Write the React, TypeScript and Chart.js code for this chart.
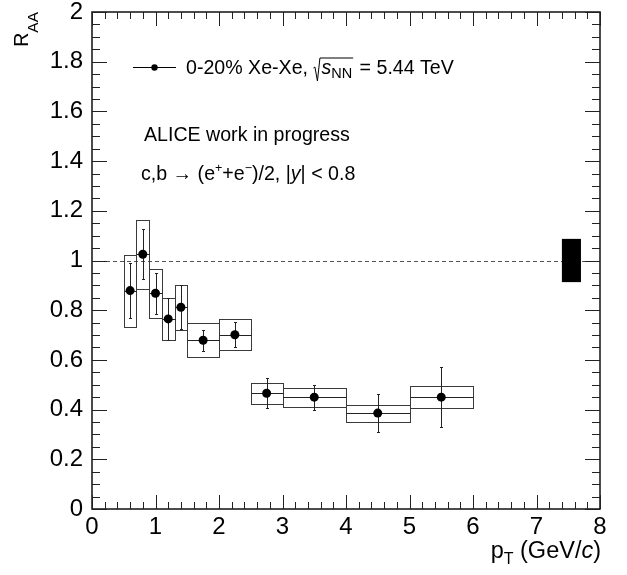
import React, { useEffect, useRef } from "react";
import { Chart, registerables } from "chart.js";

Chart.register(...registerables);

// ---- Data ----
const ptCenters = [0.6, 0.8, 1.0, 1.2, 1.4, 1.75, 2.25, 2.75, 3.5, 4.5, 5.5];
const binLow = [0.5, 0.7, 0.9, 1.1, 1.3, 1.5, 2.0, 2.5, 3.0, 4.0, 5.0];
const binHigh = [0.7, 0.9, 1.1, 1.3, 1.5, 2.0, 2.5, 3.0, 4.0, 5.0, 6.0];
const raaValues = [0.879, 1.025, 0.868, 0.765, 0.812, 0.679, 0.701, 0.466, 0.45, 0.386, 0.45];
const statErr = [0.11, 0.1, 0.082, 0.083, 0.088, 0.043, 0.05, 0.06, 0.05, 0.078, 0.122];
const sysErr = [0.145, 0.138, 0.098, 0.086, 0.091, 0.068, 0.062, 0.042, 0.038, 0.034, 0.045];
const normBoxX = [7.4, 7.7];
const normValue = 1.0;
const normErr = 0.087;
const referenceLine = 1.0;

const xTickValues = [0, 1, 2, 3, 4, 5, 6, 7, 8];
const xTickLabels = ["0", "1", "2", "3", "4", "5", "6", "7", "8"];
const yTickValues = [0, 0.2, 0.4, 0.6, 0.8, 1.0, 1.2, 1.4, 1.6, 1.8, 2.0];
const yTickLabels = ["0", "0.2", "0.4", "0.6", "0.8", "1", "1.2", "1.4", "1.6", "1.8", "2"];
const xMinorStep = 0.2;
const yMinorStep = 0.05;

const FONT = '"Liberation Sans", Arial, Helvetica, sans-serif';

const rootPlugin = {
  id: "rootStyle",
  beforeDatasetsDraw(chart: any) {
    const { ctx, scales } = chart;
    const x = scales.x;
    const y = scales.y;
    const px = (v: number) => x.getPixelForValue(v);
    const py = (v: number) => y.getPixelForValue(v);
    ctx.save();

    // dashed reference line
    ctx.strokeStyle = "#555";
    ctx.lineWidth = 1;
    ctx.setLineDash([4, 3]);
    ctx.beginPath();
    const yr = Math.round(py(referenceLine)) + 0.5;
    ctx.moveTo(px(x.min), yr);
    ctx.lineTo(px(x.max), yr);
    ctx.stroke();
    ctx.setLineDash([]);

    // normalisation box
    ctx.fillStyle = "#000";
    const nx0 = px(normBoxX[0]);
    const nx1 = px(normBoxX[1]);
    const ny0 = py(normValue + normErr);
    const ny1 = py(normValue - normErr);
    ctx.fillRect(nx0, ny0, nx1 - nx0, ny1 - ny0);

    // systematic boxes
    ctx.strokeStyle = "#3a3a3a";
    ctx.lineWidth = 1;
    for (let i = 0; i < ptCenters.length; i++) {
      const x0 = Math.round(px(binLow[i])) + 0.5;
      const x1 = Math.round(px(binHigh[i])) + 0.5;
      const y0 = Math.round(py(raaValues[i] + sysErr[i])) + 0.5;
      const y1 = Math.round(py(raaValues[i] - sysErr[i])) + 0.5;
      ctx.strokeRect(x0, y0, x1 - x0, y1 - y0);
    }

    // bin-width lines and stat error bars
    ctx.strokeStyle = "#222";
    for (let i = 0; i < ptCenters.length; i++) {
      const xc = Math.round(px(ptCenters[i])) + 0.5;
      const yc = Math.round(py(raaValues[i])) + 0.5;
      const x0 = Math.round(px(binLow[i])) + 0.5;
      const x1 = Math.round(px(binHigh[i])) + 0.5;
      const yt = Math.round(py(raaValues[i] + statErr[i])) + 0.5;
      const yb = Math.round(py(raaValues[i] - statErr[i])) + 0.5;
      ctx.beginPath();
      ctx.moveTo(x0, yc);
      ctx.lineTo(x1, yc);
      ctx.moveTo(xc, yt);
      ctx.lineTo(xc, yb);
      ctx.moveTo(xc - 1.5, yt);
      ctx.lineTo(xc + 1.5, yt);
      ctx.moveTo(xc - 1.5, yb);
      ctx.lineTo(xc + 1.5, yb);
      ctx.stroke();
    }
    ctx.restore();
  },
  afterDraw(chart: any) {
    const { ctx, chartArea: a, scales } = chart;
    const x = scales.x;
    const y = scales.y;
    ctx.save();

    // frame
    ctx.strokeStyle = "#111";
    ctx.lineWidth = 1.5;
    ctx.strokeRect(a.left, a.top, a.right - a.left, a.bottom - a.top);

    // ticks
    ctx.lineWidth = 1;
    ctx.strokeStyle = "#222";
    ctx.beginPath();
    const nx = Math.round((x.max - x.min) / xMinorStep);
    for (let k = 0; k <= nx; k++) {
      const v = x.min + k * xMinorStep;
      const major = xTickValues.some((t) => Math.abs(t - v) < 1e-6);
      const len = major ? 14 : 7;
      const xp = Math.round(x.getPixelForValue(v)) + 0.5;
      ctx.moveTo(xp, a.bottom);
      ctx.lineTo(xp, a.bottom - len);
      ctx.moveTo(xp, a.top);
      ctx.lineTo(xp, a.top + len);
    }
    const ny = Math.round((y.max - y.min) / yMinorStep);
    for (let k = 0; k <= ny; k++) {
      const v = y.min + k * yMinorStep;
      const major = yTickValues.some((t) => Math.abs(t - v) < 1e-6);
      const len = major ? 15 : 8;
      const yp = Math.round(y.getPixelForValue(v)) + 0.5;
      ctx.moveTo(a.left, yp);
      ctx.lineTo(a.left + len, yp);
      ctx.moveTo(a.right, yp);
      ctx.lineTo(a.right - len, yp);
    }
    ctx.stroke();

    ctx.fillStyle = "#000";
    ctx.textBaseline = "alphabetic";
    ctx.textAlign = "left";

    // legend
    const ly = 67.5;
    ctx.strokeStyle = "#000";
    ctx.lineWidth = 1;
    ctx.beginPath();
    ctx.moveTo(133, ly);
    ctx.lineTo(176, ly);
    ctx.stroke();
    ctx.beginPath();
    ctx.arc(154.5, ly, 3.2, 0, Math.PI * 2);
    ctx.fill();

    const base = 19.6;
    let tx = 186;
    const tb = 74;
    ctx.font = `${base}px ${FONT}`;
    const s1 = "0-20% Xe-Xe, ";
    ctx.fillText(s1, tx, tb);
    tx += ctx.measureText(s1).width;
    // radical
    const radStart = tx;
    ctx.font = `italic ${base}px ${FONT}`;
    const sW = ctx.measureText("s").width;
    ctx.font = `${14.5}px ${FONT}`;
    const nnW = ctx.measureText("NN").width;
    const radEnd = radStart + 8 + sW + nnW + 1;
    ctx.beginPath();
    ctx.lineWidth = 1;
    ctx.moveTo(radStart, tb - 6);
    ctx.lineTo(radStart + 1.5, tb - 7);
    ctx.lineTo(radStart + 4, tb + 7);
    ctx.lineTo(radStart + 6.5, tb - 16);
    ctx.lineTo(radEnd, tb - 16);
    ctx.stroke();
    ctx.font = `italic ${base}px ${FONT}`;
    ctx.fillText("s", radStart + 8, tb);
    ctx.font = `${14.5}px ${FONT}`;
    ctx.fillText("NN", radStart + 8 + sW, tb + 4);
    ctx.font = `${base}px ${FONT}`;
    ctx.fillText(" = 5.44 TeV", radEnd + 1, tb);

    // ALICE label
    ctx.fillText("ALICE work in progress", 144, 141);

    // decay label
    let dx = 141;
    const db = 180;
    const put = (t: string, font: string, dy = 0) => {
      ctx.font = font;
      ctx.fillText(t, dx, db + dy);
      dx += ctx.measureText(t).width;
    };
    const nf = `${base}px ${FONT}`;
    const sf = `${12.5}px ${FONT}`;
    put("c,b \u2192 (e", nf);
    put("+", sf, -8);
    put("+e", nf);
    put("\u2212", sf, -8);
    put(")/2, |", nf);
    put("y", `italic ${base}px ${FONT}`);
    put("| < 0.8", nf);

    // y-axis title (rotated): R_AA, ending at top of frame
    ctx.save();
    ctx.translate(28, a.top);
    ctx.rotate(-Math.PI / 2);
    ctx.font = `${19.5}px ${FONT}`;
    const rW = ctx.measureText("R").width;
    ctx.font = `${15.5}px ${FONT}`;
    const aaW = ctx.measureText("AA").width;
    const total = rW + aaW;
    ctx.font = `${19.5}px ${FONT}`;
    ctx.fillText("R", -total, 0);
    ctx.font = `${15.5}px ${FONT}`;
    ctx.fillText("AA", -total + rW, 10);
    ctx.restore();

    // x-axis title: p_T (GeV/c), right-aligned to frame
    const xf = `${23.5}px ${FONT}`;
    const xsf = `${16}px ${FONT}`;
    const xif = `italic ${23.5}px ${FONT}`;
    const parts: [string, string, number][] = [
      ["p", xf, 0],
      ["T", xsf, 6],
      [" (GeV/", xf, 0],
      ["c", xif, 0],
      [")", xf, 0],
    ];
    let w = 0;
    for (const [t, f] of parts) {
      ctx.font = f;
      w += ctx.measureText(t).width;
    }
    let xx = a.right + 1 - w;
    const xb = 558;
    for (const [t, f, off] of parts) {
      ctx.font = f;
      ctx.fillText(t, xx, xb + off);
      xx += ctx.measureText(t).width;
    }

    ctx.restore();
  },
};

export default function App() {
  const canvasRef = useRef<HTMLCanvasElement | null>(null);

  useEffect(() => {
    document.body.style.margin = "0";
    const canvas = canvasRef.current;
    if (!canvas) return;
    const chart = new Chart(canvas, {
      type: "scatter",
      data: {
        datasets: [
          {
            label: "0-20% Xe-Xe",
            data: ptCenters.map((p, i) => ({ x: p, y: raaValues[i] })),
            backgroundColor: "#000",
            borderColor: "#000",
            borderWidth: 0,
            pointRadius: 4.5,
            showLine: false,
          },
        ],
      },
      options: {
        animation: false,
        responsive: false,
        maintainAspectRatio: false,
        layout: { padding: { top: 12, right: 27, left: 0, bottom: 0 } },
        plugins: {
          legend: { display: false },
          tooltip: { enabled: false },
        },
        scales: {
          x: {
            type: "linear",
            min: 0,
            max: 8,
            grid: { display: false, drawTicks: false },
            border: { display: false },
            afterBuildTicks: (s: any) => {
              s.ticks = xTickValues.map((v) => ({ value: v }));
            },
            afterFit: (s: any) => {
              s.height = 66;
              s.paddingLeft = 0;
              s.paddingRight = 0;
            },
            ticks: {
              color: "#000",
              font: { family: FONT, size: 24 },
              padding: 4,
              maxRotation: 0,
              autoSkip: false,
              callback: (_v: any, i: number) => xTickLabels[i],
            },
          },
          y: {
            type: "linear",
            min: 0,
            max: 2,
            grid: { display: false, drawTicks: false },
            border: { display: false },
            afterBuildTicks: (s: any) => {
              s.ticks = yTickValues.map((v) => ({ value: v }));
            },
            afterFit: (s: any) => {
              s.width = 92;
              s.paddingTop = 0;
              s.paddingBottom = 0;
            },
            ticks: {
              color: "#000",
              font: { family: FONT, size: 24 },
              padding: 9,
              autoSkip: false,
              callback: (_v: any, i: number) => yTickLabels[i],
            },
          },
        },
      },
      plugins: [rootPlugin],
    });
    return () => chart.destroy();
  }, []);

  return (
    <div style={{ width: 627, height: 575, background: "#fff" }}>
      <canvas ref={canvasRef} width={627} height={575} style={{ display: "block" }} />
    </div>
  );
}
